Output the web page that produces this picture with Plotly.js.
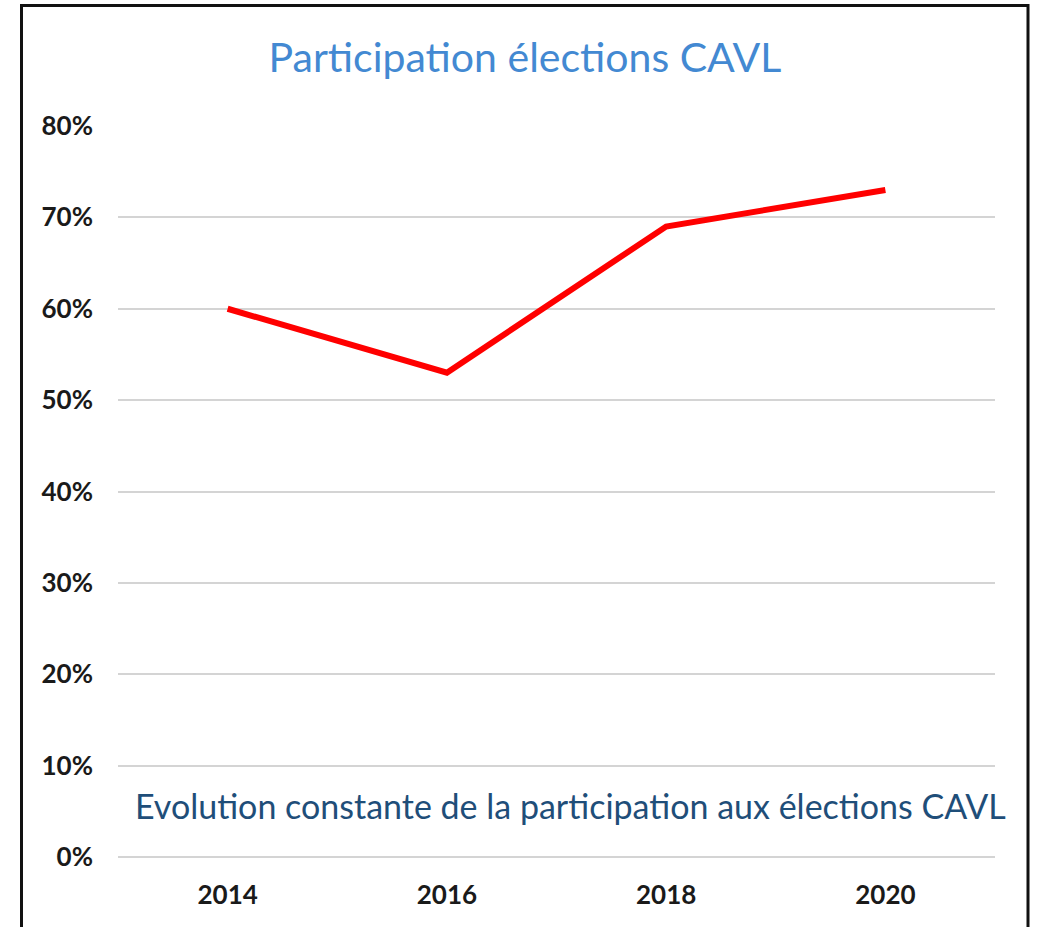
<!DOCTYPE html>
<html>
<head>
<meta charset="utf-8">
<script src="https://cdn.plot.ly/plotly-3.0.1.min.js"></script>
<style>
html,body{margin:0;padding:0;background:#fff;}
#chart{width:1040px;height:927px;}
</style>
</head>
<body>
<div id="chart"></div>
<script>
const years = ["2014", "2016", "2018", "2020"];
const participation = [0.60, 0.53, 0.69, 0.73];
const yTickValues = [0, 0.1, 0.2, 0.3, 0.4, 0.5, 0.6, 0.7, 0.8];
const yTickLabels = ["0%", "10%", "20%", "30%", "40%", "50%", "60%", "70%", "80%"];
const chartTitle = "Participation élections CAVL";
const noteText = "Evolution constante de la participation aux élections CAVL";

const W = 1040, H = 927;
const L = 118, R = 995, T = 126, B = 857;
const px = v => (v - L) / (R - L);
const py = v => (B - v) / (B - T);

const trace = {
  x: years,
  y: participation,
  type: "scatter",
  mode: "lines",
  line: {color: "#ff0000", width: 6},
  hoverinfo: "x+y"
};

const layout = {
  width: W,
  height: H,
  margin: {l: L, r: W - R, t: T, b: H - B, pad: 0},
  paper_bgcolor: "#ffffff",
  plot_bgcolor: "#ffffff",
  showlegend: false,
  title: {
    text: chartTitle,
    font: {family: "Lato, sans-serif", size: 41, color: "#4389d2"},
    x: 525 / W,
    xanchor: "center",
    xref: "container",
    y: 1 - 58 / H,
    yref: "container",
    yanchor: "middle"
  },
  xaxis: {
    type: "category",
    range: [-0.5, 3.5],
    showgrid: false,
    zeroline: false,
    showline: false,
    ticks: "",
    ticklabelstandoff: 20,
    tickfont: {family: "Lato, sans-serif", size: 26, color: "#1a1a1a", weight: "bold"},
    fixedrange: true
  },
  yaxis: {
    range: [0, 0.8],
    tickvals: yTickValues,
    ticktext: yTickLabels,
    showgrid: true,
    gridcolor: "#d4d4d4",
    gridwidth: 2,
    zeroline: true,
    zerolinecolor: "#d4d4d4",
    zerolinewidth: 2,
    showline: false,
    ticks: "",
    ticklabelstandoff: 24,
    tickfont: {family: "Lato, sans-serif", size: 26, color: "#1a1a1a", weight: "bold"},
    fixedrange: true
  },
  annotations: [{
    text: noteText,
    xref: "paper", yref: "paper",
    x: px(570), y: py(805),
    xanchor: "center", yanchor: "middle",
    showarrow: false,
    font: {family: "Lato, sans-serif", size: 34, color: "#1f4e79"}
  }],
  shapes: [{
    type: "rect",
    xref: "paper", yref: "paper",
    x0: px(21.5), x1: px(1028),
    y0: py(5.5), y1: py(950),
    line: {color: "#111111", width: 3},
    fillcolor: "rgba(0,0,0,0)",
    layer: "above"
  }]
};

Plotly.newPlot("chart", [trace], layout, {displayModeBar: false, staticPlot: true});
</script>
</body>
</html>
